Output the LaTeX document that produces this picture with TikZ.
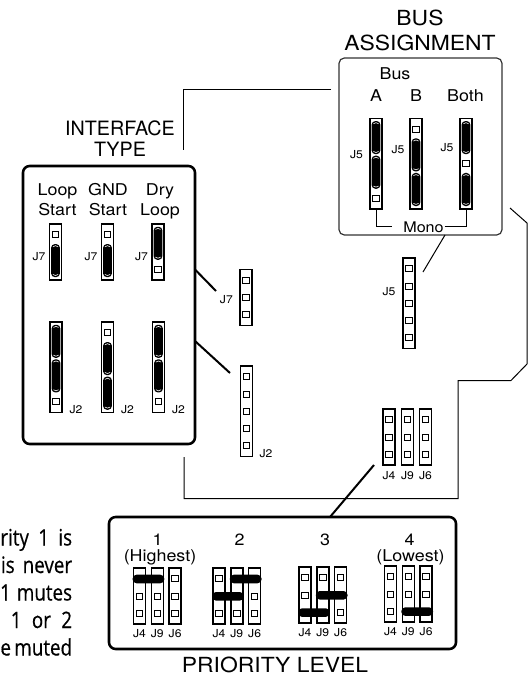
\documentclass[tikz,border=0pt]{standalone}
\usepackage{fontspec}
\setmainfont{TeX Gyre Heros}[FakeStretch=1.1]
\newfontfamily\plainfont{TeX Gyre Heros}
\newfontfamily\notefont{Open Sans}[FakeBold=0.5,FakeStretch=0.83]

\tikzset{every picture/.style={line width=0.75pt}}
\tikzset{
  hdrbox/.style={draw=black, fill=white, line width=1.2pt},
  pinsq/.style={draw=black, fill=white, line width=0.6pt},
  board/.style={draw=black, line width=0.75pt},
  callout/.style={draw=black, line width=1.5pt},
  heavybox/.style={draw=black, line width=1.9pt, rounded corners=5pt},
  busbox/.style={draw=black!80, line width=0.9pt, rounded corners=4pt},
  title/.style={anchor=base, inner sep=0pt, font=\fontsize{15.6}{18}\selectfont},
  narrowtitle/.style={anchor=base, inner sep=0pt, font=\plainfont\fontsize{14.8}{18}\selectfont},
  lbl/.style={anchor=base, inner sep=0pt, font=\fontsize{12.2}{14}\selectfont},
  jlbl/.style={anchor=base, inner sep=0pt, font=\fontsize{8.3}{10}\selectfont},
  note/.style={anchor=base east, inner sep=0pt, font=\notefont\fontsize{17}{20}\selectfont},
}

% header: x centre, y top, number of pins
\newcommand{\hdr}[3]{%
  \draw[hdrbox] ({#1-6},#2) rectangle ({#1+6},{#2+17.3*#3+4});
  \foreach \p in {1,...,#3}
    \draw[pinsq] ({#1-3.25},{#2-9.65+17.3*\p}) rectangle ++(6.5,6);
}
% upright shunt: x centre, header top, first pin, last pin
\newcommand{\vshunt}[4]{%
  \fill[black, rounded corners=2.8pt] ({#1-4.4},{#2-6.65+17.3*#3-7.9}) rectangle ({#1+4.4},{#2-6.65+17.3*#4+7.9});
  \draw[white, line width=0.45pt] ({#1-2.6},{#2-6.65+17.3*#3-5.2}) .. controls ({#1-1.2},{#2-6.65+17.3*#3-6.6}) and ({#1+1.2},{#2-6.65+17.3*#3-6.6}) .. ({#1+2.6},{#2-6.65+17.3*#3-5.2});
  \draw[white, line width=0.45pt] ({#1-2.6},{#2-6.65+17.3*#4+5.2}) .. controls ({#1-1.2},{#2-6.65+17.3*#4+6.6}) and ({#1+1.2},{#2-6.65+17.3*#4+6.6}) .. ({#1+2.6},{#2-6.65+17.3*#4+5.2});
}
% flat shunt: left x, right x, pin y
\newcommand{\hshunt}[3]{%
  \fill[black, rounded corners=3pt] ({#1-7},{#3-4.3}) rectangle ({#2+7},{#3+4.3});
}
% priority group: name, J4 x, header top
\newcommand{\prio}[3]{%
  \hdr{#2}{#3}{3}
  \hdr{#2+17.8}{#3}{3}
  \hdr{#2+35.6}{#3}{3}
  \node[jlbl] (#1a) at (#2,{#3+69.5}) {J4};
  \node[jlbl] (#1b) at ({#2+17.8},{#3+69.5}) {J9};
  \node[jlbl] (#1c) at ({#2+35.6},{#3+69.5}) {J6};
}

\begin{document}
\begin{tikzpicture}[x=0.75pt,y=0.75pt,yscale=-1,xscale=1]
\useasboundingbox (0,0) rectangle (531,675);

%Board outline
\draw[board] (331,89) -- (183,89) -- (183,150);
\draw[board] (184,457) -- (184,498.5) -- (458,498.5) -- (458,380.5) -- (511,380.5) -- (527,364) -- (527,223) -- (510,208);

%Boxes
\draw[heavybox] (23,166) rectangle (195,444);
\draw[busbox] (339,58) rectangle (502,235);
\draw[heavybox] (109,517) rectangle (456,649);

%Callouts
\coordinate (ifJ7) at (195,269.5);
\coordinate (sJ7) at (216,291);
\coordinate (ifJ2) at (195,341);
\coordinate (sJ2) at (230,373);
\coordinate (busJ5) at (445,235);
\coordinate (sJ5) at (423,272);
\coordinate (sJ4) at (374,465);
\coordinate (prTop) at (330,517);
\draw[callout] (ifJ7) -- (sJ7);
\draw[callout] (ifJ2) -- (sJ2);
\draw[board] (busJ5) -- (sJ5);
\draw[callout] (sJ4) -- (prTop);

% Titles
\node[title] (busT) at (420,25) {BUS};
\node[title] (busB) at (420,50) {ASSIGNMENT};
\node[narrowtitle] (ifT) at (120,135) {INTERFACE};
\node[narrowtitle] (ifB) at (120,156.5) {TYPE};
\node[title] (prT) at (275,672) {PRIORITY LEVEL};

%Interface type
\node[lbl] (lsTop) at (57.5,195) {Loop};
\node[lbl] (lsBot) at (57.5,215) {Start};
\node[lbl] (gsTop) at (108,195) {GND};
\node[lbl] (gsBot) at (108,215) {Start};
\node[lbl] (dlTop) at (160,195) {Dry};
\node[lbl] (dlBot) at (160,215) {Loop};
\hdr{55.5}{224}{3}  \vshunt{55.5}{224}{2}{3}
\hdr{107.5}{224}{3} \vshunt{107.5}{224}{2}{3}
\hdr{158}{224}{3}   \vshunt{158}{224}{1}{2}
\node[jlbl, anchor=base east] (lsJ7) at (46,260) {J7};
\node[jlbl, anchor=base east] (gsJ7) at (98,260) {J7};
\node[jlbl, anchor=base east] (dlJ7) at (148.5,260) {J7};
\hdr{56}{322}{5}    \vshunt{56}{322}{1}{2}    \vshunt{56}{322}{3}{4}
\hdr{107.5}{322}{5} \vshunt{107.5}{322}{2}{3} \vshunt{107.5}{322}{4}{5}
\hdr{158.5}{322}{5} \vshunt{158.5}{322}{1}{2} \vshunt{158.5}{322}{3}{4}
\node[jlbl, anchor=base west] (lsJ2) at (69,413.5) {J2};
\node[jlbl, anchor=base west] (gsJ2) at (120.5,413.5) {J2};
\node[jlbl, anchor=base west] (dlJ2) at (171.5,413.5) {J2};

%Bus assignment
\node[lbl] (busL) at (395,79.5) {Bus};
\node[lbl] (busA) at (376,101.7) {A};
\node[lbl] (busBB) at (416,101.7) {B};
\node[lbl] (busBoth) at (465.5,101.7) {Both};
\hdr{376}{118.3}{5} \vshunt{376}{118.3}{1}{2} \vshunt{376}{118.3}{3}{4}
\hdr{416}{118.3}{5} \vshunt{416}{118.3}{2}{3} \vshunt{416}{118.3}{4}{5}
\hdr{466}{118.3}{5} \vshunt{466}{118.3}{1}{2} \vshunt{466}{118.3}{4}{5}
\node[jlbl, anchor=base east] (aJ5) at (363.5,158.5) {J5};
\node[jlbl, anchor=base east] (bJ5) at (405,153.5) {J5};
\node[jlbl, anchor=base east] (cJ5) at (454,151.5) {J5};
\node[lbl, font=\fontsize{11}{13}\selectfont] (mono) at (423.5,232) {Mono};
\draw[board] (376,208.8) -- (376,226.5) -- (391.5,226.5);
\draw[board] (444.5,226.5) -- (466,226.5) -- (466,208.8);

%Board headers
\hdr{246}{269.5}{3}
\node[jlbl, anchor=base east] (bdJ7) at (233.3,303.5) {J7};
\hdr{246.5}{366}{5}
\node[jlbl, anchor=base west] (bdJ2) at (259,457) {J2};
\hdr{409}{258}{5}
\node[jlbl, anchor=base east] (bdJ5) at (396,295.5) {J5};
\hdr{389}{409}{3} \hdr{407.5}{409}{3} \hdr{425.5}{409}{3}
\node[jlbl] (bdJ4) at (389,479) {J4};
\node[jlbl] (bdJ9) at (407.5,479) {J9};
\node[jlbl] (bdJ6) at (425.5,479) {J6};

%Priority level
\node[lbl] (p1) at (157.5,545) {1};
\node[lbl] (p1b) at (160,561) {(Highest)};
\node[lbl] (p2) at (239.5,545) {2};
\node[lbl] (p3) at (325,545) {3};
\node[lbl] (p4) at (409.5,545) {4};
\node[lbl] (p4b) at (410.5,561) {(Lowest)};
\prio{ga}{139.5}{568}
\hshunt{139.5}{157.3}{579}
\prio{gb}{219}{568}
\hshunt{236.8}{254.6}{579}
\hshunt{219}{236.8}{596.3}
\prio{gc}{305}{567}
\hshunt{322.8}{340.6}{595.3}
\hshunt{305}{322.8}{612.6}
\prio{gd}{390.5}{566}
\hshunt{408.3}{426.1}{611.6}

%Note text
\node[note] (n1) at (72.6,545.5) {rity\hspace{7pt}1\hspace{7pt}is};
\node[note] (n2) at (72.6,573) {is\hspace{6pt}never};
\node[note] (n3) at (72.6,600.5) {1\hspace{4.5pt}mutes};
\node[note] (n4) at (72.6,628) {1\hspace{7.8pt}or\hspace{7.8pt}2};
\node[note] (n5) at (72.6,655.5) {e\hspace{2.5pt}muted};

\end{tikzpicture}
\end{document}
